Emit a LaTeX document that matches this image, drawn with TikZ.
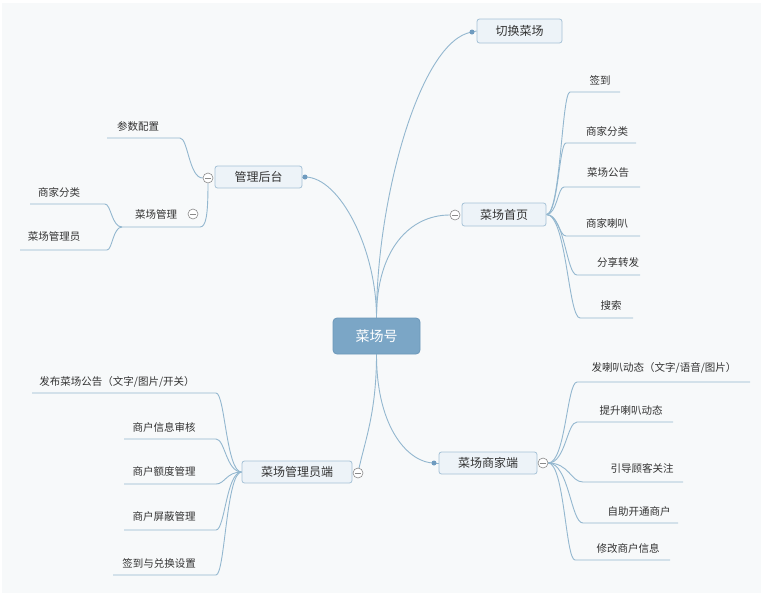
\documentclass[tikz,border=0pt]{standalone}
\usepackage{fontspec}
\setmainfont{Noto Sans CJK SC}
\usetikzlibrary{calc}
\definecolor{bgc}{HTML}{F7F9FA}
\definecolor{linec}{HTML}{93B7CF}
\definecolor{boxfill}{HTML}{EDF3F8}
\definecolor{boxdraw}{HTML}{A6C2D6}
\definecolor{rootfill}{HTML}{7BA6C6}
\definecolor{rootdraw}{HTML}{6C98BA}
\definecolor{dotc}{HTML}{6F9BBF}
\definecolor{txt}{HTML}{333333}
\definecolor{togc}{HTML}{8A8A8A}
\pgfdeclarelayer{back}
\pgfdeclarelayer{wires}
\pgfsetlayers{back,wires,main}
\newcommand\brc[3]{\draw[conn] let \p1=(#1), \p2=(#2) in (\p1) .. controls ({\x1+0.6*(\x2-\x1)},\y1) and ({\x1+0.65*(\x2-\x1)},\y2) .. (\p2) -- (#3);}
\begin{document}
\begin{tikzpicture}[x=1pt,y=-1pt,
 conn/.style={draw=linec,line width=0.9pt},
 topic/.style={draw=boxdraw,fill=boxfill,rounded corners=2.5pt,line width=0.8pt,inner sep=0pt,text=txt,font=\fontsize{12}{14}\selectfont},
 root/.style={draw=rootdraw,fill=rootfill,rounded corners=4pt,line width=0.8pt,inner sep=0pt,text=white,font=\fontsize{14}{16}\selectfont},
 leaf/.style={text=txt,inner sep=0pt,font=\fontsize{10.5}{12}\selectfont},
 dot/.style={circle,fill=dotc,inner sep=0pt,minimum size=5pt},
 toggle/.style={circle,draw=togc,fill=white,line width=0.6pt,inner sep=0pt,minimum size=10pt,
   path picture={\draw[togc,line width=0.6pt] ([xshift=-3pt]path picture bounding box.center) -- ([xshift=3pt]path picture bounding box.center);}}
]
\useasboundingbox (0,0) rectangle (767,598);
\begin{pgfonlayer}{back}
\fill[white] (0,0) rectangle (767,598);
\fill[bgc] (2,3) rectangle (761,593);
\end{pgfonlayer}

% main topics
\node[root,minimum width=87pt,minimum height=36pt] (root) at (376.5,336) {菜场号};
\node[topic,minimum width=85pt,minimum height=24pt] (qh) at (519.5,31) {切换菜场};
\node[topic,minimum width=84pt,minimum height=23pt] (sy) at (504,214.5) {菜场首页};
\node[topic,minimum width=87pt,minimum height=22pt] (gl) at (258.5,177) {管理后台};
\node[topic,minimum width=98pt,minimum height=22pt] (sj) at (488,463) {菜场商家端};
\node[topic,minimum width=110pt,minimum height=22pt] (gy) at (297,472) {菜场管理员端};

% dots and toggles
\node[dot] (dqh) at (472,32) {};
\node[dot] (dgl) at (305,177) {};
\node[dot] (dsj) at (434,463) {};
\node[toggle] (tsy) at (455,215) {};
\node[toggle] (tgl) at (208,178) {};
\node[toggle] (tgm) at (193,214) {};
\node[toggle] (tsj) at (543,463) {};
\node[toggle] (tgy) at (358,473) {};

% leaves of 菜场首页
\node[leaf] (a1) at (600,80) {签到};
\coordinate (a1s) at (570,92); \coordinate (a1e) at (620,92);
\node[leaf] (a2) at (607,131) {商家分类};
\coordinate (a2s) at (566,143); \coordinate (a2e) at (636,143);
\node[leaf] (a3) at (608,173) {菜场公告};
\coordinate (a3s) at (564,187); \coordinate (a3e) at (640,187);
\node[leaf] (a4) at (607,223) {商家喇叭};
\coordinate (a4s) at (566,236); \coordinate (a4e) at (640,236);
\node[leaf] (a5) at (618,262) {分享转发};
\coordinate (a5s) at (577,275); \coordinate (a5e) at (640,275);
\node[leaf] (a6) at (611,306) {搜索};
\coordinate (a6s) at (580,318); \coordinate (a6e) at (633,318);

% leaves of 管理后台
\node[leaf] (b1) at (138,126) {参数配置};
\coordinate (b1e) at (180,138); \coordinate (b1s) at (107,138);
\node[leaf] (b2) at (156,214) {菜场管理};
\coordinate (b2e) at (200,227); \coordinate (b2s) at (122,227);
\node[leaf] (b3) at (59,192) {商家分类};
\coordinate (b3e) at (105,204); \coordinate (b3s) at (30,204);
\node[leaf] (b4) at (54,237) {菜场管理员};
\coordinate (b4e) at (107,250); \coordinate (b4s) at (20,250);

% leaves of 菜场管理员端
\node[leaf] (c1) at (117,382) {发布菜场公告（文字/图片/开关）};
\coordinate (c1e) at (216,393); \coordinate (c1s) at (32,393);
\node[leaf] (c2) at (164,427) {商户信息审核};
\coordinate (c2e) at (216,439); \coordinate (c2s) at (124,439);
\node[leaf] (c3) at (164,472) {商户额度管理};
\coordinate (c3e) at (216,484); \coordinate (c3s) at (124,484);
\node[leaf] (c4) at (164,517) {商户屏蔽管理};
\coordinate (c4e) at (216,530); \coordinate (c4s) at (124,530);
\node[leaf] (c5) at (159,563) {签到与兑换设置};
\coordinate (c5e) at (216,575); \coordinate (c5s) at (113,575);

% leaves of 菜场商家端
\node[leaf] (d1) at (664,368) {发喇叭动态（文字/语音/图片）};
\coordinate (d1s) at (577,382); \coordinate (d1e) at (750,382);
\node[leaf] (d2) at (631,410) {提升喇叭动态};
\coordinate (d2s) at (577,422); \coordinate (d2e) at (673,422);
\node[leaf] (d3) at (642,468) {引导顾客关注};
\coordinate (d3s) at (583,482); \coordinate (d3e) at (683,482);
\node[leaf] (d4) at (639,512) {自助开通商户};
\coordinate (d4s) at (583,523); \coordinate (d4e) at (678,523);
\node[leaf] (d5) at (628,548) {修改商户信息};
\coordinate (d5s) at (575,560); \coordinate (d5e) at (670,560);

\begin{pgfonlayer}{wires}
% root to main topics
\draw[conn] (root.north) .. controls +(0,-118) and +(-52,8) .. (dqh.center);
\draw[conn] (root.north) .. controls +(0,-68) and +(35,0) .. (dgl.center);
\draw[conn] (root.north) .. controls +(0,-68) and +(-40,0) .. (tsy.west);
\draw[conn] (root.south) .. controls +(0,60) and +(6,-30) .. (tgy.center);
\draw[conn] (root.south) .. controls +(0,76) and +(-24,0) .. (dsj.center);
\draw[conn] (dqh.center) -- (qh.west);
\draw[conn] (dgl.center) -- (gl.east);
\draw[conn] (dsj.center) -- (sj.west);
% 菜场首页
\brc{sy.east}{a1s}{a1e}
\brc{sy.east}{a2s}{a2e}
\brc{sy.east}{a3s}{a3e}
\brc{sy.east}{a4s}{a4e}
\brc{sy.east}{a5s}{a5e}
\brc{sy.east}{a6s}{a6e}
% 管理后台
\brc{tgl.west}{b1e}{b1s}
\draw[conn] (tgl.south) .. controls +(0,32) and +(6,0) .. (b2e) -- (b2s);
\brc{b2s}{b3e}{b3s}
\brc{b2s}{b4e}{b4s}
% 菜场管理员端
\brc{gy.west}{c1e}{c1s}
\brc{gy.west}{c2e}{c2s}
\brc{gy.west}{c3e}{c3s}
\brc{gy.west}{c4e}{c4s}
\brc{gy.west}{c5e}{c5s}
% 菜场商家端
\brc{tsj.east}{d1s}{d1e}
\brc{tsj.east}{d2s}{d2e}
\brc{tsj.east}{d3s}{d3e}
\brc{tsj.east}{d4s}{d4e}
\brc{tsj.east}{d5s}{d5e}
\end{pgfonlayer}
\end{tikzpicture}
\end{document}
